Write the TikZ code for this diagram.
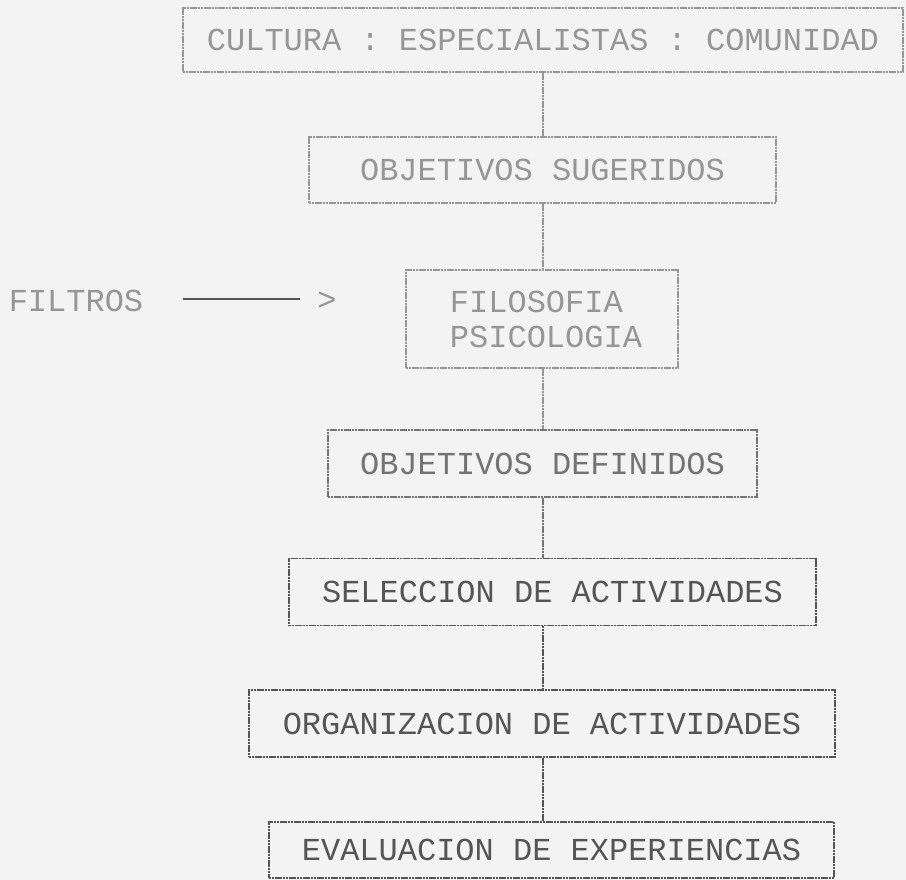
\documentclass[tikz,border=0pt]{standalone}
\usepackage{fontspec}
\newfontfamily\dotfont{Liberation Mono}
\definecolor{bg}{RGB}{243,243,243}
\definecolor{inklight}{RGB}{150,150,150}
\definecolor{inkmid}{RGB}{115,115,115}
\definecolor{inkdark}{RGB}{85,85,85}
\begin{document}
\begin{tikzpicture}[x=1pt,y=-1pt,
  txt/.style={font=\dotfont\fontsize{32}{35}\selectfont, inner sep=0pt},
  box/.style={txt, draw=#1, text=#1, line width=1.2pt, dash pattern=on 2.2pt off 0.6pt, align=left},
  conn/.style={draw=#1, line width=1.1pt, dash pattern=on 2.2pt off 0.6pt}]
\fill[bg] (0,0) rectangle (906,880);
\useasboundingbox (0,0) rectangle (906,880);
\coordinate (cx) at (543,0);
\node[box=inklight, minimum width=720pt, minimum height=64pt] (b1) at (543,40) {CULTURA : ESPECIALISTAS : COMUNIDAD};
\node[box=inklight, minimum width=467pt, minimum height=66pt] (b2) at (542.5,170) {OBJETIVOS SUGERIDOS};
\node[box=inklight, minimum width=272pt, minimum height=98pt] (b3) at (542,319) {\hspace*{8pt}FILOSOFIA\\\hspace*{8pt}PSICOLOGIA};
\node[box=inkmid, minimum width=429pt, minimum height=67pt] (b4) at (542.5,463.5) {OBJETIVOS DEFINIDOS};
\node[box=inkdark, minimum width=527pt, minimum height=67pt] (b5) at (552.5,592) {SELECCION DE ACTIVIDADES};
\node[box=inkdark, minimum width=586pt, minimum height=67pt] (b6) at (542,723.5) {ORGANIZACION DE ACTIVIDADES};
\node[box=inkdark, minimum width=565pt, minimum height=56pt] (b7) at (551.5,850) {EVALUACION DE EXPERIENCIAS};
\node[txt, text=inklight] (f) at (76,301) {FILTROS};
\node[txt, text=inklight, minimum width=19.2pt] (gt) at (327,301) {>};
\draw[conn=inkdark, solid, shorten <=40pt, shorten >=17pt] ([yshift=2pt]f.east) -- ([yshift=2pt]gt.west);
\draw[conn=inklight] (b1.south -| cx) -- (b2.north -| cx);
\draw[conn=inklight] (b2.south -| cx) -- (b3.north -| cx);
\draw[conn=inklight] (b3.south -| cx) -- (b4.north -| cx);
\draw[conn=inkmid] (b4.south -| cx) -- (b5.north -| cx);
\draw[conn=inkdark] (b5.south -| cx) -- (b6.north -| cx);
\draw[conn=inkdark] (b6.south -| cx) -- (b7.north -| cx);
\end{tikzpicture}
\end{document}
